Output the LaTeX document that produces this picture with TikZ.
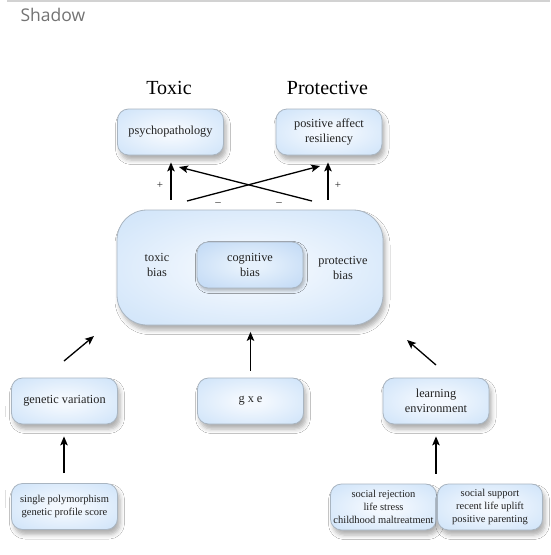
\documentclass[tikz,border=0pt]{standalone}
\usepackage{fontspec}
\setmainfont{Liberation Serif}
\newfontfamily\uifont{Open Sans}
\usetikzlibrary{arrows.meta,shadows.blur}
\definecolor{boxedge}{HTML}{A9B5C1}
\definecolor{boxout}{HTML}{C4DCF6}
\definecolor{boxmid}{HTML}{D5E7FA}
\definecolor{boxin}{HTML}{F3F8FE}
\definecolor{innerout}{HTML}{B0CFF0}
\definecolor{innermid}{HTML}{C7DDF6}
\definecolor{innerin}{HTML}{E6F1FC}
\definecolor{txt}{HTML}{222222}
\pgfdeclareradialshading{softbox}{\pgfpoint{0bp}{0bp}}{color(0bp)=(boxin); color(6bp)=(boxin); color(30bp)=(boxmid); color(50bp)=(boxout); color(100bp)=(boxout)}
\pgfdeclareradialshading{softinner}{\pgfpoint{0bp}{0bp}}{color(0bp)=(innerin); color(6bp)=(innerin); color(30bp)=(innermid); color(50bp)=(innerout); color(100bp)=(innerout)}
\begin{document}
\begin{tikzpicture}[x=1pt,y=-1pt,
  boxbase/.style={draw=boxedge, line width=0.8pt, align=center, text=txt,
    blur shadow={shadow xshift=2.5pt, shadow yshift=-5pt, shadow blur radius=4.5pt, shadow opacity=32}},
  box/.style={boxbase, rounded corners=11pt, shading=softbox,
    minimum width=106pt, minimum height=46pt, inner sep=0pt,
    font=\fontsize{12.3}{14.7}\selectfont},
  smallbox/.style={box, font=\fontsize{10.5}{13.3}\selectfont},
  bigbox/.style={boxbase, rounded corners=30pt, shading=softbox,
    minimum width=266pt, minimum height=115pt, inner sep=0pt},
  innerbox/.style={box, shading=softinner,
    blur shadow={shadow xshift=1.5pt, shadow yshift=-2.5pt, shadow blur radius=3pt, shadow opacity=15}},
  lbl/.style={text=txt, align=center, font=\fontsize{12.3}{14.7}\selectfont},
  head/.style={text=black, font=\fontsize{20}{24}\selectfont},
  sign/.style={text=txt, font=\fontsize{11}{12}\selectfont},
  arr/.style={line width=1.3pt, -{Stealth[length=9pt,width=7.5pt,inset=2pt]}}
]
\useasboundingbox[fill=white] (0,0) rectangle (550,555);
\draw[gray!35, line width=1.5pt] (7,1) -- (550,1);
\draw[gray!25, line width=0.8pt] (5,406) -- (5,417);
\draw[gray!25, line width=0.8pt] (5,490) -- (5,508);
\node[anchor=west, text=black!55, font=\uifont\fontsize{17.5}{20}\selectfont] (title) at (17,15) {Shadow};

\node[head] (toxic) at (169,88) {Toxic};
\node[head] (prot) at (327.5,88) {Protective};

\node[box] (psycho) at (170.5,132) {psychopathology};
\node[box] (posaff) at (329,132) {positive affect\\resiliency};

\node[bigbox] (big) at (250,267.5) {};
\node[innerbox] (cog) at (250,265) {cognitive\\bias};
\node[lbl] (tbias) at (157,265) {toxic\\bias};
\node[lbl] (pbias) at (343,268) {protective\\bias};

\node[box] (gen) at (64.5,401) {genetic variation};
\node[box] (gxe) at (250.5,401) {g x e};
\node[box] (learn) at (436,401) {learning\\environment};

\node[smallbox] (single) at (64.5,506.5) {single polymorphism\\genetic profile score};
\node[smallbox] (socrej) at (383.5,507) {social rejection\\life stress\\childhood maltreatment};
\node[smallbox, minimum width=105pt] (socsup) at (490,507) {social support\\recent life uplift\\positive parenting};

% top arrows
\coordinate (c1s) at (187,201);
\coordinate (c1e) at (320,166);
\coordinate (c2s) at (312,201);
\coordinate (c2e) at (179,167);
\draw[arr, shorten <=10pt, shorten >=7pt] (big.north -| 171,0) -- (psycho.south -| 171,0);
\draw[arr, shorten <=10pt, shorten >=7pt] (big.north -| 328,0) -- (posaff.south -| 328,0);
\draw[arr] (c1s) -- (c1e);
\draw[arr] (c2s) -- (c2e);
\node[sign] (p1) at (160,185) {+};
\node[sign] (p2) at (338,185) {+};
\node[sign] (m1) at (218,204) {--};
\node[sign] (m2) at (279,204) {--};

% lower arrows
\coordinate (g1s) at (64,361);
\coordinate (g1e) at (94,336);
\coordinate (g3s) at (436,365);
\coordinate (g3e) at (407,340);
\draw[arr] (g1s) -- (g1e);
\draw[arr, shorten <=7pt, shorten >=6.5pt] (gxe.north) -- (big.south -| gxe.north);
\draw[arr] (g3s) -- (g3e);
\draw[arr, shorten <=10pt, shorten >=12pt] (single.north -| 64,0) -- (gen.south -| 64,0);
\draw[arr, shorten <=10pt, shorten >=12pt] (socrej.north -| 436,0) -- (learn.south);
\end{tikzpicture}
\end{document}
